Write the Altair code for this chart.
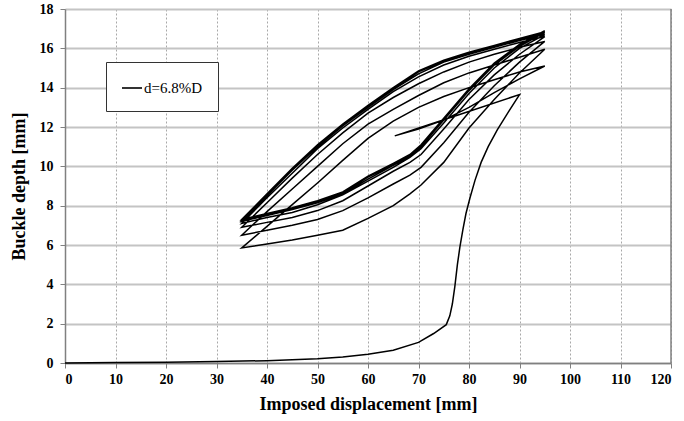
import altair as alt
import pandas as pd

# ---- data ----
series_name = "d=6.8%D"

# initial loading
init_x = [0, 10, 20, 30, 40, 50, 55, 60, 65, 70, 73, 75.5, 76.2, 76.7, 77.2, 77.7, 78.2, 78.8, 79.4, 80.2, 81.2, 82.4, 83.8, 85.6, 88, 90]
init_y = [0, 0.02, 0.04, 0.07, 0.12, 0.22, 0.3, 0.45, 0.65, 1.05, 1.5, 1.95, 2.4, 3.0, 3.9, 5.0, 5.9, 6.8, 7.6, 8.4, 9.3, 10.2, 11.0, 11.85, 12.85, 13.65]

# first partial unload / reload
unload_x = [90, 78, 65.3]
unload_y = [13.65, 12.62, 11.55]
reload_x = [65.3, 70, 75, 80, 85, 90, 95]
reload_y = [11.55, 11.9, 12.35, 13.0, 13.75, 14.45, 15.1]

# upper branches of the cycles (95 -> 35)
top_x = [95, 90, 85, 80, 75, 70, 65, 60, 55, 50, 45, 40, 35]
top1_y = [15.1, 14.8, 14.4, 14.0, 13.55, 13.0, 12.3, 11.42, 10.3, 9.15, 8.05, 6.95, 5.85]
top2_y = [15.95, 15.55, 15.15, 14.75, 14.25, 13.6, 12.9, 12.15, 11.15, 10.0, 8.85, 7.7, 6.5]
top3_y = [16.35, 16.05, 15.7, 15.3, 14.8, 14.2, 13.5, 12.7, 11.7, 10.6, 9.4, 8.15, 6.9]
top4_y = [16.6, 16.3, 15.95, 15.6, 15.15, 14.55, 13.8, 12.9, 11.95, 10.9, 9.65, 8.4, 7.1]
top5_y = [16.7, 16.4, 16.05, 15.7, 15.3, 14.7, 13.9, 13.0, 12.05, 11.0, 9.8, 8.5, 7.2]
top6_y = [16.8, 16.45, 16.1, 15.75, 15.35, 14.8, 13.95, 13.05, 12.1, 11.05, 9.85, 8.55, 7.25]
top7_y = [16.85, 16.5, 16.15, 15.8, 15.4, 14.85, 14.0, 13.1, 12.15, 11.1, 9.9, 8.6, 7.3]

# lower branches of the cycles (35 -> 95)
bot_x = [35, 40, 45, 50, 55, 60, 65, 68.3, 70.5, 75, 80, 85, 90, 95]
bot1_y = [5.85, 6.05, 6.25, 6.5, 6.75, 7.35, 8.0, 8.6, 9.05, 10.2, 11.95, 13.4, 14.75, 15.95]
bot2_y = [6.5, 6.75, 7.0, 7.3, 7.75, 8.4, 9.1, 9.55, 9.95, 11.2, 12.75, 14.1, 15.3, 16.35]
bot3_y = [6.9, 7.15, 7.4, 7.75, 8.25, 9.0, 9.75, 10.2, 10.6, 11.9, 13.4, 14.65, 15.7, 16.6]
bot4_y = [7.1, 7.4, 7.65, 8.05, 8.55, 9.25, 9.95, 10.45, 10.9, 12.2, 13.7, 15.0, 16.0, 16.7]
bot5_y = [7.2, 7.5, 7.8, 8.15, 8.6, 9.35, 10.05, 10.5, 11.0, 12.35, 13.85, 15.15, 16.1, 16.8]
bot6_y = [7.25, 7.55, 7.85, 8.2, 8.65, 9.45, 10.1, 10.55, 11.05, 12.4, 13.9, 15.2, 16.15, 16.85]
bot7_y = [7.3, 7.6, 7.9, 8.25, 8.7, 9.5, 10.15, 10.6, 11.1, 12.45, 13.95, 15.25, 16.2, 16.9]

x_ticks = list(range(0, 121, 10))
y_ticks = list(range(0, 19, 2))

# ---- build one continuous path ----
segments = [
    (init_x, init_y), (unload_x, unload_y), (reload_x, reload_y),
    (top_x, top1_y), (bot_x, bot1_y),
    (top_x, top2_y), (bot_x, bot2_y),
    (top_x, top3_y), (bot_x, bot3_y),
    (top_x, top4_y), (bot_x, bot4_y),
    (top_x, top5_y), (bot_x, bot5_y),
    (top_x, top6_y), (bot_x, bot6_y),
    (top_x, top7_y), (bot_x, bot7_y),
]
rows = []
for xs, ys in segments:
    for xv, yv in zip(xs, ys):
        rows.append({"disp": xv, "depth": yv, "order": len(rows), "series": series_name})
df = pd.DataFrame(rows)

FONT = "Liberation Serif"
x_scale = alt.Scale(domain=[0, 120], nice=False, zero=False)
y_scale = alt.Scale(domain=[0, 18], nice=False, zero=False)

x_axis = alt.Axis(values=x_ticks, title="Imposed displacement [mm]",
                  gridDash=[2, 2], gridColor="#a8a8a8", gridWidth=1,
                  labelOverlap=False, labelPadding=4, titlePadding=9)
y_axis = alt.Axis(values=y_ticks, title="Buckle depth [mm]",
                  gridColor="#c4c4c4", gridWidth=2,
                  labelOverlap=False, labelPadding=7, titlePadding=11)

line = alt.Chart(df).mark_line(strokeWidth=1.5, interpolate="linear").encode(
    x=alt.X("disp:Q", scale=x_scale, axis=x_axis),
    y=alt.Y("depth:Q", scale=y_scale, axis=y_axis),
    order="order:Q",
    color=alt.Color("series:N",
                    scale=alt.Scale(range=["black"]),
                    legend=alt.Legend(title=None, orient="none", legendX=41, legendY=53,
                                      symbolType="stroke", symbolSize=400,
                                      symbolStrokeWidth=1.6, labelOffset=1,
                                      labelFont=FONT, labelFontSize=15,
                                      labelFontWeight="normal", labelColor="black",
                                      strokeColor="#333333", fillColor="white",
                                      padding=15)),
)

# right-hand frame line of the plot area, drawn through the same scales
frame_df = pd.DataFrame({"disp": [120], "depth": [0], "depth2": [18]})
border = alt.Chart(frame_df).mark_rule(color="#808080", strokeWidth=1.5).encode(
    x=alt.X("disp:Q", scale=x_scale, axis=x_axis),
    y=alt.Y("depth:Q", scale=y_scale, axis=y_axis),
    y2="depth2:Q",
)

chart = alt.layer(line, border).properties(
    width=606, height=354,
    autosize=alt.AutoSizeParams(type="none"),
    padding={"left": 65, "top": 9, "right": 13, "bottom": 58},
).configure_view(stroke=None).configure_axis(
    labelFont=FONT, labelFontSize=14, labelFontWeight="bold", labelColor="black",
    titleFont=FONT, titleFontSize=18, titleFontWeight="bold", titleColor="black",
    domainColor="#808080", domainWidth=1.5, tickColor="#808080", tickSize=5,
)

chart.save("out.html", embed_options={"renderer": "svg", "actions": False})
